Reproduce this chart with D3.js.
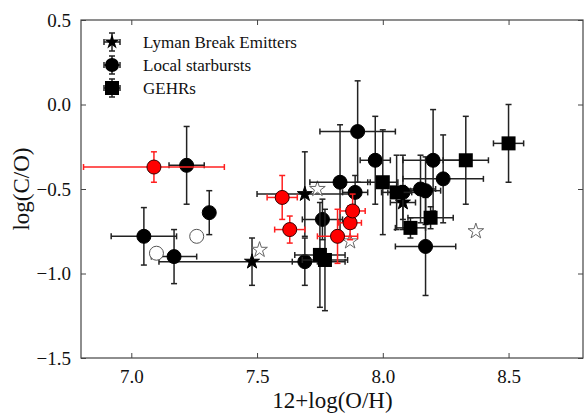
<!DOCTYPE html>
<html>
<head>
<meta charset="utf-8">
<script src="https://cdn.jsdelivr.net/npm/d3@7"></script>
<style>
  body { margin: 0; background: #fff; }
  svg text { font-family: "Liberation Serif", "DejaVu Serif", serif !important; fill: #111; }
</style>
</head>
<body>
<div id="chart"></div>
<script>
// Lyman Break Emitters (filled stars)
const lbe_oh = [7.48, 7.69, 8.08];
const lbe_co = [-0.93, -0.53, -0.58];
const lbe_xerr = [0.37, 0.19, 0.05];
const lbe_yerr = [0.14, 0.25, 0.10];

// open stars, no error bars
const lbe_open_oh = [7.51, 7.74, 7.87, 8.37];
const lbe_open_co = [-0.86, -0.50, -0.81, -0.75];

// Local starbursts (black circles)
const ls_oh = [7.05, 7.17, 7.22, 7.31, 7.69, 7.76, 7.83, 7.89, 7.90, 7.97, 8.08, 8.15, 8.17, 8.20, 8.24, 8.17];
const ls_co = [-0.78, -0.90, -0.36, -0.64, -0.93, -0.68, -0.46, -0.52, -0.16, -0.33, -0.52, -0.50, -0.51, -0.33, -0.44, -0.84];
const ls_xerr = [0.13, 0.09, 0.07, 0.00, 0.05, 0.08, 0.12, 0.05, 0.15, 0.06, 0.06, 0.06, 0.06, 0.12, 0.16, 0.12];
const ls_yerr = [0.17, 0.16, 0.23, 0.13, 0.14, 0.12, 0.34, 0.10, 0.30, 0.26, 0.22, 0.20, 0.20, 0.30, 0.26, 0.29];

// open circles, no error bars
const ls_open_oh = [7.10, 7.26];
const ls_open_co = [-0.88, -0.78];

// red circles
const red_oh = [7.09, 7.60, 7.63, 7.82, 7.87, 7.88];
const red_co = [-0.37, -0.55, -0.74, -0.78, -0.70, -0.63];
const red_xerr = [0.28, 0.06, 0.06, 0.08, 0.045, 0.05];
const red_yerr = [0.09, 0.13, 0.08, 0.16, 0.10, 0.10];

// GEHRs (squares)
const gehr_oh = [7.75, 7.77, 8.00, 8.055, 8.11, 8.19, 8.33, 8.50];
const gehr_co = [-0.89, -0.92, -0.46, -0.52, -0.73, -0.67, -0.33, -0.23];
const gehr_xerr = [0.10, 0.09, 0.06, 0.06, 0.06, 0.09, 0.09, 0.06];
const gehr_yerr = [0.31, 0.30, 0.31, 0.22, 0.06, 0.065, 0.26, 0.23];

const x_ticks = [7.0, 7.5, 8.0, 8.5];
const y_ticks = [0.5, 0.0, -0.5, -1.0, -1.5];
const legend_labels = ['Lyman Break Emitters', 'Local starbursts', 'GEHRs'];

const chart_width = 585;
const chart_height = 416;
const margin = { left: 81, right: 1, top: 20, bottom: 58 };

const svg = d3.select('#chart')
    .append('svg')
    .attr('width', chart_width)
    .attr('height', chart_height);

const x_scale = d3.scaleLinear()
    .domain([6.8, 8.8])
    .range([margin.left, chart_width - margin.right]);

const y_scale = d3.scaleLinear()
    .domain([-1.5, 0.5])
    .range([chart_height - margin.bottom, margin.top]);

const fmt = d => d3.format('.1f')(d).replace('-', '\u2212');

// Axes, ticks inward on all four sides
const tick_len = 5;
svg.append('g')
    .attr('transform', `translate(0, ${y_scale(-1.5)})`)
    .call(d3.axisBottom(x_scale).tickValues(x_ticks).tickFormat(fmt).tickSizeInner(-tick_len).tickSizeOuter(0).tickPadding(12));
svg.append('g')
    .attr('transform', `translate(0, ${y_scale(0.5)})`)
    .call(d3.axisTop(x_scale).tickValues(x_ticks).tickFormat('').tickSizeInner(-tick_len).tickSizeOuter(0));
svg.append('g')
    .attr('transform', `translate(${x_scale(6.8)}, 0)`)
    .call(d3.axisLeft(y_scale).tickValues(y_ticks).tickFormat(fmt).tickSizeInner(-tick_len).tickSizeOuter(0).tickPadding(10));
svg.append('g')
    .attr('transform', `translate(${x_scale(8.8) - 1}, 0)`)
    .call(d3.axisRight(y_scale).tickValues(y_ticks).tickFormat('').tickSizeInner(-tick_len).tickSizeOuter(0));
svg.selectAll('.domain').remove();
svg.selectAll('.tick line').attr('stroke', '#444');
svg.selectAll('.tick text')
    .attr('fill', '#111')
    .style('font-family', '"Liberation Serif", serif')
    .style('font-size', '19px');

// Frame
svg.append('rect')
    .attr('x', x_scale(6.8))
    .attr('y', y_scale(0.5))
    .attr('width', x_scale(8.8) - x_scale(6.8) - 1)
    .attr('height', y_scale(-1.5) - y_scale(0.5))
    .attr('fill', 'none')
    .attr('stroke', '#444')
    .attr('stroke-width', 1.2);

// Axis titles
svg.append('text')
    .attr('x', (x_scale(6.8) + x_scale(8.8)) / 2)
    .attr('y', 408)
    .attr('text-anchor', 'middle')
    .attr('font-size', 23)
    .text('12+log(O/H)');
svg.append('text')
    .attr('transform', `translate(29, ${(y_scale(0.5) + y_scale(-1.5)) / 2}) rotate(-90)`)
    .attr('text-anchor', 'middle')
    .attr('font-size', 23)
    .text('log(C/O)');

const plot = svg.append('g');
const cap = 3;

function draw_errors(oh, co, xerr, yerr, color) {
    const g = plot.append('g').attr('stroke', color).attr('stroke-width', 1.5).attr('fill', 'none');
    oh.forEach((d, i) => {
        const cx = x_scale(d), cy = y_scale(co[i]);
        if (xerr[i] > 0) {
            const x0 = x_scale(d - xerr[i]), x1 = x_scale(d + xerr[i]);
            g.append('line').attr('x1', x0).attr('x2', x1).attr('y1', cy).attr('y2', cy);
            g.append('line').attr('x1', x0).attr('x2', x0).attr('y1', cy - cap).attr('y2', cy + cap);
            g.append('line').attr('x1', x1).attr('x2', x1).attr('y1', cy - cap).attr('y2', cy + cap);
        }
        if (yerr[i] > 0) {
            const y0 = y_scale(co[i] - yerr[i]), y1 = y_scale(co[i] + yerr[i]);
            g.append('line').attr('x1', cx).attr('x2', cx).attr('y1', y0).attr('y2', y1);
            g.append('line').attr('x1', cx - cap).attr('x2', cx + cap).attr('y1', y0).attr('y2', y0);
            g.append('line').attr('x1', cx - cap).attr('x2', cx + cap).attr('y1', y1).attr('y2', y1);
        }
    });
}

const star = d3.symbol().type(d3.symbolStar).size(70);
const star_open = d3.symbol().type(d3.symbolStar).size(76);
const sq = 14;
const rad = 7;

function draw_stars(oh, co, fill, stroke, path) {
    plot.append('g').selectAll('path')
        .data(oh).enter().append('path')
        .attr('d', path)
        .attr('transform', (d, i) => `translate(${x_scale(d)}, ${y_scale(co[i])})`)
        .attr('fill', fill)
        .attr('stroke', stroke)
        .attr('stroke-width', 1);
}

function draw_circles(oh, co, fill, stroke) {
    plot.append('g').selectAll('circle')
        .data(oh).enter().append('circle')
        .attr('cx', d => x_scale(d))
        .attr('cy', (d, i) => y_scale(co[i]))
        .attr('r', rad)
        .attr('fill', fill)
        .attr('stroke', stroke)
        .attr('stroke-width', 1);
}

// Lyman break emitters
draw_errors(lbe_oh, lbe_co, lbe_xerr, lbe_yerr, '#222');
draw_stars(lbe_oh, lbe_co, '#000', '#000', star());
draw_stars(lbe_open_oh, lbe_open_co, '#fff', '#666', star_open());

// Local starbursts
draw_errors(ls_oh, ls_co, ls_xerr, ls_yerr, '#222');
draw_circles(ls_oh, ls_co, '#000', '#000');
draw_circles(ls_open_oh, ls_open_co, '#fff', '#555');

// GEHRs
draw_errors(gehr_oh, gehr_co, gehr_xerr, gehr_yerr, '#222');
plot.append('g').selectAll('rect')
    .data(gehr_oh).enter().append('rect')
    .attr('x', d => x_scale(d) - sq / 2)
    .attr('y', (d, i) => y_scale(gehr_co[i]) - sq / 2)
    .attr('width', sq)
    .attr('height', sq)
    .attr('fill', '#000');

// Red points
draw_errors(red_oh, red_co, red_xerr, red_yerr, '#ff2020');
draw_circles(red_oh, red_co, '#f00', '#300');

// Legend
const legend = svg.append('g');
legend_labels.forEach((label, i) => {
    const lx = 112, ly = 42 + i * 23;
    const g = legend.append('g').attr('stroke', '#222').attr('stroke-width', 1.5);
    g.append('line').attr('x1', lx - 8).attr('x2', lx + 8).attr('y1', ly).attr('y2', ly);
    g.append('line').attr('x1', lx - 8).attr('x2', lx - 8).attr('y1', ly - cap).attr('y2', ly + cap);
    g.append('line').attr('x1', lx + 8).attr('x2', lx + 8).attr('y1', ly - cap).attr('y2', ly + cap);
    g.append('line').attr('x1', lx).attr('x2', lx).attr('y1', ly - 9).attr('y2', ly + 9);
    g.append('line').attr('x1', lx - cap).attr('x2', lx + cap).attr('y1', ly - 9).attr('y2', ly - 9);
    g.append('line').attr('x1', lx - cap).attr('x2', lx + cap).attr('y1', ly + 9).attr('y2', ly + 9);
    if (i === 0) {
        legend.append('path').attr('d', star()).attr('transform', `translate(${lx}, ${ly})`).attr('fill', '#000');
    } else if (i === 1) {
        legend.append('circle').attr('cx', lx).attr('cy', ly).attr('r', rad).attr('fill', '#000');
    } else {
        legend.append('rect').attr('x', lx - sq / 2).attr('y', ly - sq / 2).attr('width', sq).attr('height', sq).attr('fill', '#000');
    }
    legend.append('text')
        .attr('x', 143)
        .attr('y', ly + 5.5)
        .attr('font-size', 17)
        .text(label);
});
</script>
</body>
</html>
